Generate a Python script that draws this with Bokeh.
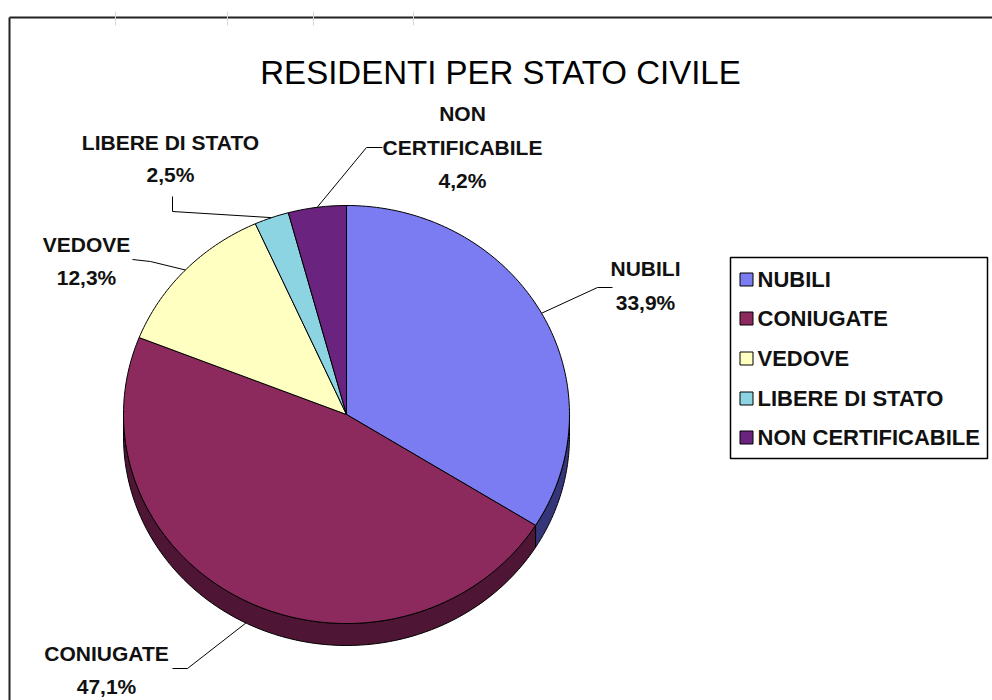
import numpy as np
from bokeh.plotting import figure
from bokeh.models import Range1d
from bokeh.embed import file_html
from bokeh.resources import INLINE
from bokeh.core.properties import value

# ---------------- data ----------------
title = "RESIDENTI PER STATO CIVILE"
categories = ["NUBILI", "CONIUGATE", "VEDOVE", "LIBERE DI STATO", "NON CERTIFICABILE"]
percent = [33.9, 47.1, 12.3, 2.5, 4.2]

# ---------------- styles ----------------
top_colors = ["#7b7bf2", "#8c2a5e", "#ffffc2", "#8cd4e2", "#6a2480"]
side_colors = ["#35357a", "#4e1634", "#8a8a60", "#4a7a82", "#3a1448"]
FONT = value("Liberation Sans")

# label layout (label lines, text centre x, line y's, leader start, elbow)
label_layout = [
    dict(lines=["NUBILI"], x=645, ys=[268, 302], start=(612, 287), elbow=(597, 287)),
    dict(lines=["CONIUGATE"], x=106, ys=[653, 686], start=(172, 668), elbow=(187, 668)),
    dict(lines=["VEDOVE"], x=86, ys=[244, 277], start=(132, 259), elbow=(150, 261)),
    dict(lines=["LIBERE DI STATO"], x=170, ys=[142, 174], start=(172, 196), elbow=(172, 211)),
    dict(lines=["NON", "CERTIFICABILE"], x=462, ys=[113, 147, 180], start=(382, 147), elbow=(366, 147)),
]

W, H = 992, 700
p = figure(width=W, height=H, x_range=Range1d(0, W), y_range=Range1d(H, 0),
           output_backend="svg", toolbar_location=None, min_border=0,
           x_axis_location=None, y_axis_location=None)
p.grid.visible = False
p.outline_line_color = None
p.background_fill_color = "white"
p.border_fill_color = "white"

# outer frame
p.line(x=[9, 9], y=[700, 17], line_color="#222222", line_width=2)
p.line(x=[9, 992], y=[17, 17], line_color="#222222", line_width=2)
for tx in [115, 227, 313, 413]:
    p.line(x=[tx, tx], y=[11, 25], line_color="#d8d8d8", line_width=1)

# ---------------- pie geometry ----------------
cx, cy, rx, ry, depth = 346, 414, 223, 209, 22
vals = np.array(percent, dtype=float)
edges = np.concatenate([[0.0], np.cumsum(vals)]) / vals.sum() * 2 * np.pi


def ex(t):
    return cx + rx * np.sin(t)


def ey(t):
    return cy - ry * np.cos(t)


# sides (depth) for parts within the lower half
sx, sy, sc = [], [], []
for i in range(len(vals)):
    a, b = max(edges[i], np.pi / 2), min(edges[i + 1], 3 * np.pi / 2)
    if b > a:
        t = np.linspace(a, b, 80)
        xs = list(ex(t)) + list(ex(t[::-1]))
        ys = list(ey(t)) + list(ey(t[::-1]) + depth)
        sx.append(xs); sy.append(ys); sc.append(side_colors[i])
p.patches(xs=sx, ys=sy, fill_color=sc, line_color="black", line_width=1)

# top faces
px, py = [], []
for i in range(len(vals)):
    n = max(int((edges[i + 1] - edges[i]) * 60), 4)
    t = np.linspace(edges[i], edges[i + 1], n)
    px.append([cx] + list(ex(t)))
    py.append([cy] + list(ey(t)))
p.patches(xs=px, ys=py, fill_color=top_colors, line_color="black", line_width=1)

# ---------------- labels & leaders ----------------
lab_x, lab_y, lab_t = [], [], []
for i, lay in enumerate(label_layout):
    mid = (edges[i] + edges[i + 1]) / 2
    mx, my = ex(mid), ey(mid)
    if np.pi / 2 < mid < 3 * np.pi / 2:
        my += depth
    p.line(x=[lay["start"][0], lay["elbow"][0], mx], y=[lay["start"][1], lay["elbow"][1], my],
           line_color="black", line_width=1)
    pct = f"{percent[i]:.1f}".replace(".", ",") + "%"
    for txt, yy in zip(lay["lines"] + [pct], lay["ys"]):
        lab_x.append(lay["x"]); lab_y.append(yy); lab_t.append(txt)
p.text(x=lab_x, y=lab_y, text=lab_t, text_font=FONT, text_font_style="bold",
       text_font_size="21px", text_align="center", text_baseline="middle", text_color="#111111")

# title
p.text(x=[500], y=[72], text=[title], text_font=FONT, text_font_size="33px",
       text_align="center", text_baseline="middle", text_color="black")

# ---------------- legend ----------------
p.quad(left=[730], right=[987], top=[257], bottom=[458], fill_color="white",
       line_color="black", line_width=1.5)
leg_y = [279, 318, 358, 398, 437]
p.rect(x=[746] * len(categories), y=leg_y, width=13, height=13, fill_color=top_colors,
       line_color="black", line_width=1)
p.text(x=[757] * len(categories), y=leg_y, text=categories, text_font=FONT,
       text_font_style="bold", text_font_size="22px", text_align="left",
       text_baseline="middle", text_color="#111111")

open("out.html", "w").write(file_html(p, INLINE))
